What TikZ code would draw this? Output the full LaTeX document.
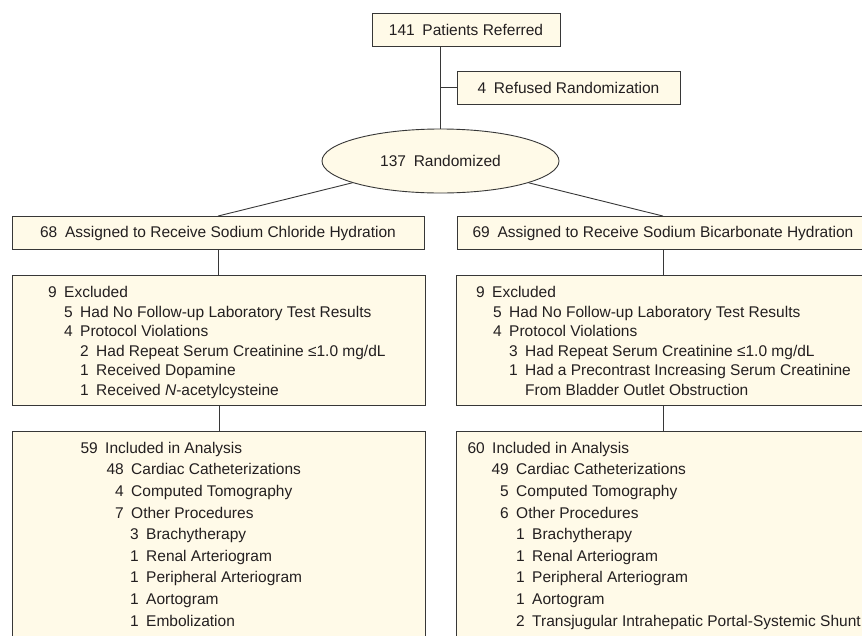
\documentclass[tikz,border=0pt]{standalone}
\usepackage{fontspec}
\setmainfont{Liberation Sans}
\usetikzlibrary{shapes.geometric}
\definecolor{boxfill}{RGB}{255,250,232}
\definecolor{edgecol}{RGB}{55,55,55}
\definecolor{inkcol}{RGB}{35,31,32}
\newcommand\gp{\hspace{0.5em}}
\newcommand\rowitem[5]{%
  \node[numlab] (#1n) at ({#2-7},#3) {#4};
  \node[txtlab] (#1t) at (#2,#3) {#5};}
\begin{document}
\begin{tikzpicture}[x=1pt,y=-1pt,
  every node/.style={font=\fontsize{15.5}{18}\selectfont, text=inkcol},
  box/.style={draw=edgecol, fill=boxfill, line width=0.9pt, rectangle, inner sep=0pt},
  listbox/.style={box, anchor=north west, minimum width=413pt},
  conn/.style={draw=edgecol, line width=0.9pt},
  numlab/.style={inner sep=0pt, anchor=base east},
  txtlab/.style={inner sep=0pt, anchor=base west}]
\useasboundingbox (0,0) rectangle (862,635);
\clip (0,0) rectangle (862,635);
\fill[white] (0,0) rectangle (862,635);

% top part
\node[box, minimum width=188pt, minimum height=33pt] (ref) at (466,29.5) {141\gp Patients Referred};
\node[box, minimum width=223pt, minimum height=33pt] (refu) at (568.5,87.5) {4\gp Refused Randomization};
\node[draw=edgecol, fill=boxfill, line width=0.9pt, ellipse, inner sep=0pt, minimum width=237pt, minimum height=64pt] (ell) at (440.5,161) {137\gp Randomized};
\draw[conn] (ref.south -| ell.north) -- (ell.north);
\draw[conn] (refu.west -| ell.north) -- (refu.west);

% assigned
\node[box, minimum width=412pt, minimum height=33pt] (a1) at (218,233) {68\gp Assigned to Receive Sodium Chloride Hydration};
\node[box, minimum width=412pt, minimum height=33pt] (a2) at (663,233) {69\gp Assigned to Receive Sodium Bicarbonate Hydration};
\draw[conn] (ell) -- (a1.north);
\draw[conn] (ell) -- (a2.north);

% excluded boxes
\node[listbox, minimum height=130pt] (e1) at (12,275) {};
\node[listbox, minimum height=130pt] (e2) at (456,275) {};
\draw[conn] (a1.south) -- (a1.south |- e1.north);
\draw[conn] (a2.south) -- (a2.south |- e2.north);

% included boxes
\node[listbox, minimum height=240pt] (i1) at (12,431) {};
\node[listbox, minimum height=240pt] (i2) at (456,431) {};
\draw[conn] (e1.south) -- (i1.north);
\draw[conn] (e2.south) -- (i2.north);

% left excluded text
\rowitem{le1}{64}{297.5}{9}{Excluded}
\rowitem{le2}{80}{317.1}{5}{Had No Follow-up Laboratory Test Results}
\rowitem{le3}{80}{336.7}{4}{Protocol Violations}
\rowitem{le4}{96}{356.3}{2}{Had Repeat Serum Creatinine ≤1.0 mg/dL}
\rowitem{le5}{96}{375.9}{1}{Received Dopamine}
\rowitem{le6}{96}{395.5}{1}{Received \textit{N}-acetylcysteine}

% right excluded text
\rowitem{re1}{492}{297.5}{9}{Excluded}
\rowitem{re2}{509}{317.1}{5}{Had No Follow-up Laboratory Test Results}
\rowitem{re3}{509}{336.7}{4}{Protocol Violations}
\rowitem{re4}{525}{356.3}{3}{Had Repeat Serum Creatinine ≤1.0 mg/dL}
\rowitem{re5}{525}{375.9}{1}{Had a Precontrast Increasing Serum Creatinine}
\node[txtlab] (re6t) at (525,395.5) {From Bladder Outlet Obstruction};

% left included text
\rowitem{li1}{105}{453.2}{59}{Included in Analysis}
\rowitem{li2}{131}{474.8}{48}{Cardiac Catheterizations}
\rowitem{li3}{131}{496.5}{4}{Computed Tomography}
\rowitem{li4}{131}{518.2}{7}{Other Procedures}
\rowitem{li5}{146}{539.8}{3}{Brachytherapy}
\rowitem{li6}{146}{561.2}{1}{Renal Arteriogram}
\rowitem{li7}{146}{582.8}{1}{Peripheral Arteriogram}
\rowitem{li8}{146}{604.8}{1}{Aortogram}
\rowitem{li9}{146}{626.2}{1}{Embolization}

% right included text
\rowitem{ri1}{492}{453.2}{60}{Included in Analysis}
\rowitem{ri2}{516}{474.8}{49}{Cardiac Catheterizations}
\rowitem{ri3}{516}{496.5}{5}{Computed Tomography}
\rowitem{ri4}{516}{518.2}{6}{Other Procedures}
\rowitem{ri5}{532}{539.8}{1}{Brachytherapy}
\rowitem{ri6}{532}{561.2}{1}{Renal Arteriogram}
\rowitem{ri7}{532}{582.8}{1}{Peripheral Arteriogram}
\rowitem{ri8}{532}{604.8}{1}{Aortogram}
\rowitem{ri9}{532}{626.2}{2}{Transjugular Intrahepatic Portal-Systemic Shunt}
\end{tikzpicture}
\end{document}
